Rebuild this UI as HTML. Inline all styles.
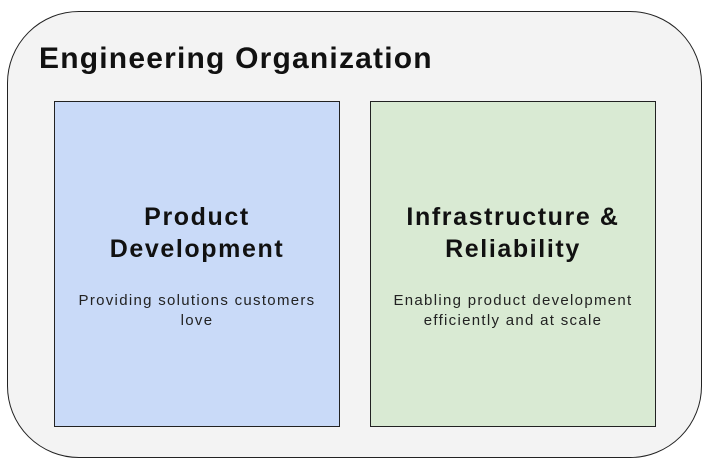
<!DOCTYPE html>
<html><head><style>
body{margin:0;width:710px;height:470px;background:#fff;position:relative;overflow:hidden;font-family:"Liberation Sans",sans-serif}
.outer{position:absolute;left:7px;top:11px;width:695px;height:447px;border:1.5px solid #222;border-radius:72px;background:#f3f3f3;box-sizing:border-box}
.title{position:absolute;left:39px;top:42px;font-size:30px;font-weight:bold;color:#111;letter-spacing:1.2px}
.box{position:absolute;top:101px;width:286px;height:326px;border:1.5px solid #222;box-sizing:border-box;text-align:center}
.h{position:absolute;left:-20px;right:-20px;top:99px;font-size:25px;font-weight:bold;line-height:32px;color:#111;letter-spacing:1.6px}
.p{position:absolute;left:-20px;right:-20px;top:189px;font-size:15px;line-height:20px;color:#222;letter-spacing:1.3px}
</style></head><body>
<div class="outer"></div>
<div class="title">Engineering Organization</div>
<div class="box" style="left:54px;background:#c9daf8">
<div class="h">Product<br>Development</div>
<div class="p">Providing solutions customers<br>love</div></div>
<div class="box" style="left:370px;background:#d9ead3">
<div class="h">Infrastructure &amp;<br>Reliability</div>
<div class="p">Enabling product development<br>efficiently and at scale</div></div>
</body></html>
